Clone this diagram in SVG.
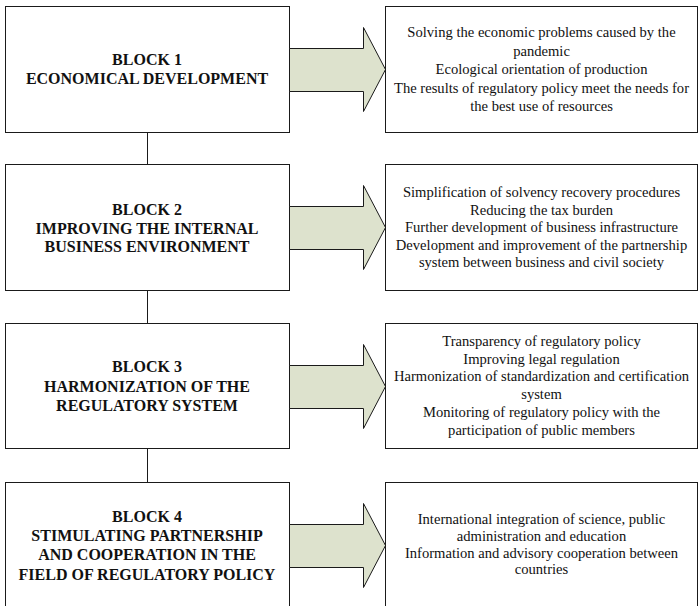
<svg xmlns="http://www.w3.org/2000/svg" width="700" height="606" viewBox="0 0 700 606">
  <style>
    .box { fill: #ffffff; stroke: #1a1a1a; stroke-width: 1; }
    .arrow { fill: #dde2cd; stroke: #1a1a1a; stroke-width: 1; stroke-linejoin: miter; }
    .link { stroke: #1a1a1a; stroke-width: 1; fill: none; }
    .head { font-family: "Liberation Serif", "Times New Roman", serif; font-weight: bold; font-size: 16px; fill: #111; text-anchor: middle; }
    .item { font-family: "Liberation Serif", "Times New Roman", serif; font-size: 14.6px; fill: #111; text-anchor: middle; }
  </style>
  <defs>
    <polygon id="bigArrow" class="arrow" points="289.5,42.5 363.5,42.5 363.5,21.5 385.5,63.5 363.5,105.5 363.5,85.5 289.5,85.5"/>
  </defs>

  <rect width="700" height="606" fill="#ffffff"/>

  <!-- vertical links between blocks -->
  <g id="connectors">
    <line class="link" x1="147.5" y1="133" x2="147.5" y2="164"/>
    <line class="link" x1="147.5" y1="291" x2="147.5" y2="323"/>
    <line class="link" x1="147.5" y1="449" x2="147.5" y2="482"/>
  </g>

  <!-- Block 1 -->
  <g id="block1">
    <rect class="box" x="5.5" y="6.5" width="284" height="126"/>
    <text class="head" x="147" y="65">BLOCK 1</text>
    <text class="head" x="147" y="84">ECONOMICAL DEVELOPMENT</text>
  </g>
  <g id="arrow1"><use href="#bigArrow" transform="translate(0,6)"/></g>
  <g id="result1">
    <rect class="box" x="385.5" y="6.5" width="312" height="126"/>
    <text class="item" x="541.5" y="37">Solving the economic problems caused by the</text>
    <text class="item" x="541.5" y="55.5">pandemic</text>
    <text class="item" x="541.5" y="74">Ecological orientation of production</text>
    <text class="item" x="541.5" y="92.5">The results of regulatory policy meet the needs for</text>
    <text class="item" x="541.5" y="111">the best use of resources</text>
  </g>

  <!-- Block 2 -->
  <g id="block2">
    <rect class="box" x="5.5" y="164.5" width="284" height="126"/>
    <text class="head" x="147" y="215">BLOCK 2</text>
    <text class="head" x="147" y="233.5">IMPROVING THE INTERNAL</text>
    <text class="head" x="147" y="252">BUSINESS ENVIRONMENT</text>
  </g>
  <g id="arrow2"><use href="#bigArrow" transform="translate(0,164)"/></g>
  <g id="result2">
    <rect class="box" x="385.5" y="164.5" width="312" height="126"/>
    <text class="item" x="541.5" y="197">Simplification of solvency recovery procedures</text>
    <text class="item" x="541.5" y="214.5">Reducing the tax burden</text>
    <text class="item" x="541.5" y="232">Further development of business infrastructure</text>
    <text class="item" x="541.5" y="249.5">Development and improvement of the partnership</text>
    <text class="item" x="541.5" y="267">system between business and civil society</text>
  </g>

  <!-- Block 3 -->
  <g id="block3">
    <rect class="box" x="5.5" y="323.5" width="284" height="125"/>
    <text class="head" x="147" y="372">BLOCK 3</text>
    <text class="head" x="147" y="391.5">HARMONIZATION OF THE</text>
    <text class="head" x="147" y="411">REGULATORY SYSTEM</text>
  </g>
  <g id="arrow3"><use href="#bigArrow" transform="translate(0,323)"/></g>
  <g id="result3">
    <rect class="box" x="385.5" y="323.5" width="312" height="125"/>
    <text class="item" x="541.5" y="346">Transparency of regulatory policy</text>
    <text class="item" x="541.5" y="363.5">Improving legal regulation</text>
    <text class="item" x="541.5" y="381">Harmonization of standardization and certification</text>
    <text class="item" x="541.5" y="399">system</text>
    <text class="item" x="541.5" y="416.5">Monitoring of regulatory policy with the</text>
    <text class="item" x="541.5" y="434.5">participation of public members</text>
  </g>

  <!-- Block 4 (runs past the lower edge) -->
  <g id="block4">
    <rect class="box" x="5.5" y="482.5" width="284" height="140"/>
    <text class="head" x="147" y="522">BLOCK 4</text>
    <text class="head" x="147" y="540.5">STIMULATING PARTNERSHIP</text>
    <text class="head" x="147" y="560">AND COOPERATION IN THE</text>
    <text class="head" x="147" y="579.5">FIELD OF REGULATORY POLICY</text>
  </g>
  <g id="arrow4"><use href="#bigArrow" transform="translate(0,482)"/></g>
  <g id="result4">
    <rect class="box" x="385.5" y="482.5" width="312" height="140"/>
    <text class="item" x="541.5" y="524">International integration of science, public</text>
    <text class="item" x="541.5" y="541">administration and education</text>
    <text class="item" x="541.5" y="557.5">Information and advisory cooperation between</text>
    <text class="item" x="541.5" y="574">countries</text>
  </g>
</svg>
